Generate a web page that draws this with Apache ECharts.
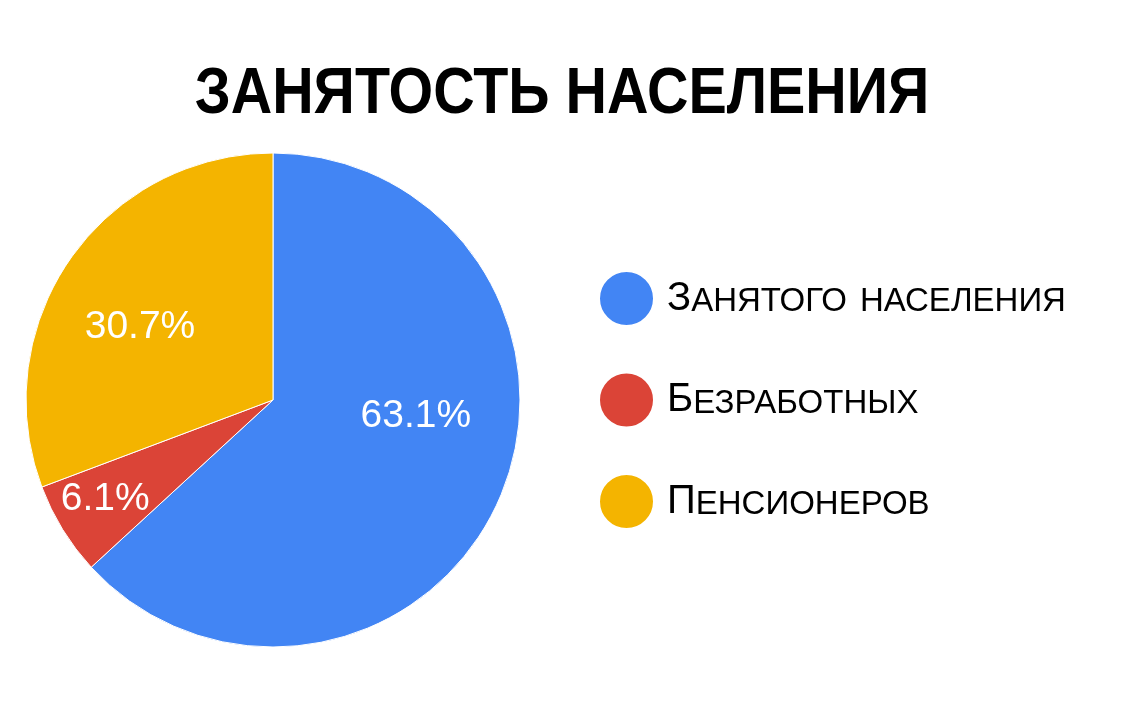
<!DOCTYPE html>
<html><head><meta charset="utf-8">
<script src="https://cdn.jsdelivr.net/npm/echarts@6/dist/echarts.min.js"></script>
<style>html,body{margin:0;padding:0;background:#fff}#c{width:1123px;height:708px}</style>
</head><body><div id="c"></div>
<script>
const title = 'ЗАНЯТОСТЬ НАСЕЛЕНИЯ';
const categories = ['Занятого населения', 'Безработных', 'Пенсионеров'];
const values = [63.1, 6.1, 30.7];
const colors = ['#4285F4', '#DB4437', '#F4B400'];
const labelOffsets = [[27, -35], [-60, 33], [-29, -1]];

const FF = 'Liberation Sans, Arial';
const chart = echarts.init(document.getElementById('c'), null, {renderer: 'canvas'});
chart.setOption({
  animation: false,
  graphic: [{
    type: 'text', x: 562, y: 95, scaleX: 0.897, silent: true,
    style: {text: title, textAlign: 'center', textVerticalAlign: 'middle',
      fontFamily: FF, fontWeight: 'bold', fontSize: 64, fill: '#000'}
  }],
  legend: {
    orient: 'vertical', left: 593, top: 265,
    icon: 'circle', itemWidth: 55, itemHeight: 55, itemGap: 44.5,
    formatter: n => '{a|' + n.charAt(0) + '}{b|' + n.slice(1) + '}',
    textStyle: {color: '#000', padding: [0, 0, 0, 8],
      rich: {
        a: {fontFamily: FF, fontSize: 40, color: '#000'},
        b: {fontFamily: FF, fontSize: 47, color: '#000', fontStyle: 'normal small-caps'}
      }},
    data: categories
  },
  series: [{
    type: 'pie', center: [273, 400], radius: 247, startAngle: 90, clockwise: true,
    itemStyle: {borderColor: '#fff', borderWidth: 1},
    label: {position: 'inside', formatter: p => p.value.toFixed(1) + '%', color: '#fff',
      fontFamily: FF, fontSize: 39},
    labelLine: {show: false},
    emphasis: {disabled: true},
    data: categories.map((n, i) => ({name: n, value: values[i], itemStyle: {color: colors[i]},
      label: {offset: labelOffsets[i]}}))
  }]
});
</script></body></html>
